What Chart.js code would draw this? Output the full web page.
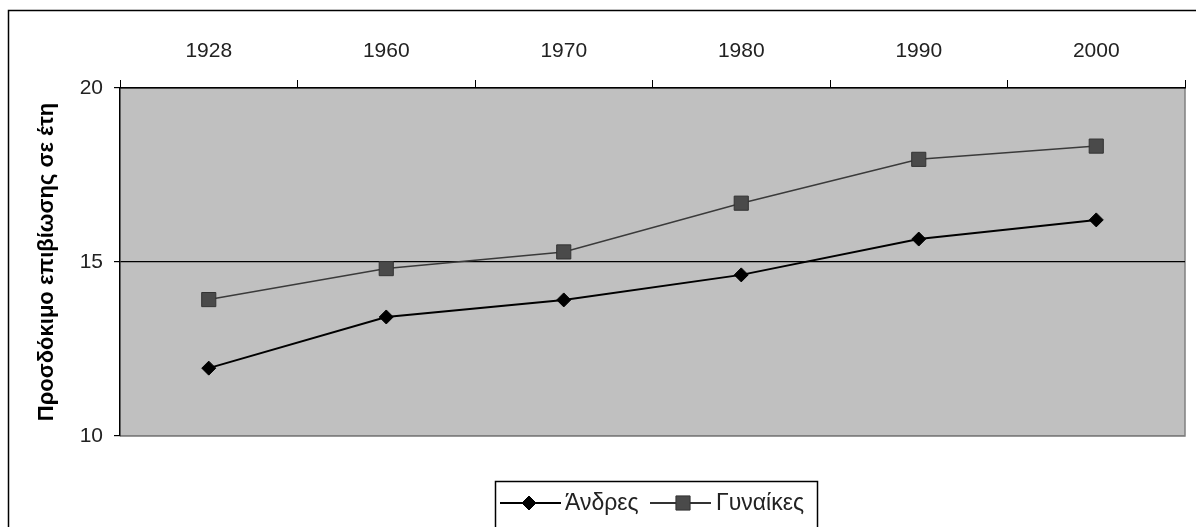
<!DOCTYPE html>
<html>
<head>
<meta charset="utf-8">
<script src="https://cdn.jsdelivr.net/npm/chart.js@4.4.1/dist/chart.umd.min.js"></script>
<style>
  html, body { margin: 0; padding: 0; background: #ffffff; }
  #wrap { width: 1196px; height: 527px; position: relative; }
</style>
</head>
<body>
<div id="wrap"><canvas id="c" width="1196" height="527"></canvas></div>
<script>
const categories = ['1928', '1960', '1970', '1980', '1990', '2000'];
const menValues = [11.95, 13.42, 13.91, 14.63, 15.66, 16.21];
const womenValues = [13.92, 14.81, 15.29, 16.69, 17.95, 18.33];
const yTicks = [10, 15, 20];
const seriesNames = ['Άνδρες', 'Γυναίκες'];
const yTitle = 'Προσδόκιμο επιβίωσης σε έτη';

const FONT = '"Liberation Sans", Arial, "DejaVu Sans", sans-serif';

const framePlugin = {
  id: 'frame',
  beforeDraw(chart) {
    const {ctx, chartArea: a} = chart;
    ctx.save();
    ctx.fillStyle = '#ffffff';
    ctx.fillRect(0, 0, chart.width, chart.height);
    ctx.strokeStyle = '#000';
    ctx.lineWidth = 1.5;
    ctx.beginPath();
    ctx.moveTo(8.5, chart.height + 2);
    ctx.lineTo(8.5, 10.5);
    ctx.lineTo(chart.width + 2, 10.5);
    ctx.stroke();
    ctx.fillStyle = '#c0c0c0';
    ctx.fillRect(a.left, a.top, a.right - a.left, a.bottom - a.top);
    ctx.strokeStyle = '#808080';
    ctx.lineWidth = 1.5;
    ctx.beginPath();
    ctx.moveTo(a.right, a.top);
    ctx.lineTo(a.right, a.bottom);
    ctx.lineTo(a.left, a.bottom);
    ctx.stroke();
    ctx.restore();
  },
  afterDraw(chart) {
    const {ctx} = chart;
    const H = Chart.helpers;
    ctx.save();
    ctx.strokeStyle = '#000';
    ctx.lineWidth = 1.5;
    ctx.strokeRect(495.5, 481.5, 322, 60);
    const cy = 503;
    ctx.font = '23px ' + FONT;
    ctx.textBaseline = 'middle';
    ctx.textAlign = 'left';
    // men
    ctx.strokeStyle = '#000';
    ctx.lineWidth = 2;
    ctx.beginPath(); ctx.moveTo(500, cy); ctx.lineTo(561, cy); ctx.stroke();
    ctx.fillStyle = '#000';
    ctx.lineWidth = 1;
    H.drawPoint(ctx, {pointStyle: 'rectRot', radius: 7, rotation: 0, borderWidth: 1}, 529, cy);
    ctx.fillStyle = '#222';
    ctx.fillText(seriesNames[0], 565, cy + 1);
    // women
    ctx.strokeStyle = '#333';
    ctx.lineWidth = 2;
    ctx.beginPath(); ctx.moveTo(650, cy); ctx.lineTo(711, cy); ctx.stroke();
    ctx.fillStyle = '#4a4a4a';
    ctx.strokeStyle = '#333';
    ctx.lineWidth = 1;
    H.drawPoint(ctx, {pointStyle: 'rect', radius: 10, rotation: 0, borderWidth: 1}, 683, cy);
    ctx.fillStyle = '#222';
    ctx.fillText(seriesNames[1], 716, cy + 1);
    ctx.restore();
  }
};

new Chart(document.getElementById('c'), {
  type: 'line',
  data: {
    labels: categories,
    datasets: [
      {
        label: seriesNames[0],
        data: menValues,
        borderColor: '#000',
        borderWidth: 2,
        backgroundColor: '#000',
        pointStyle: 'rectRot',
        pointRadius: 7,
        pointBorderWidth: 1,
        pointBorderColor: '#000',
        pointBackgroundColor: '#000',
        tension: 0
      },
      {
        label: seriesNames[1],
        data: womenValues,
        borderColor: '#3a3a3a',
        borderWidth: 1.5,
        backgroundColor: '#4a4a4a',
        pointStyle: 'rect',
        pointRadius: 10,
        pointBorderWidth: 1,
        pointBorderColor: '#333',
        pointBackgroundColor: '#4a4a4a',
        tension: 0
      }
    ]
  },
  options: {
    responsive: false,
    animation: false,
    events: [],
    layout: { padding: { left: 0, top: 0, right: 10, bottom: 91 } },
    plugins: {
      legend: { display: false },
      tooltip: { enabled: false }
    },
    scales: {
      x: {
        position: 'top',
        offset: true,
        grid: {
          offset: true,
          drawOnChartArea: false,
          drawTicks: true,
          tickLength: 8,
          color: '#000',
          tickColor: '#000',
          tickWidth: 1
        },
        border: { display: true, color: '#000', width: 1.5 },
        ticks: {
          color: '#222',
          font: { size: 21, family: FONT },
          padding: 16,
          maxRotation: 0
        },
        afterFit(scale) { scale.height = 88; }
      },
      y: {
        min: 10,
        max: 20,
        afterBuildTicks(scale) { scale.ticks = yTicks.map(v => ({value: v})); },
        grid: {
          drawOnChartArea: true,
          color: ctx => (ctx.tick && ctx.tick.value === 10) ? '#808080' : '#000',
          lineWidth: 1.2,
          tickLength: 6,
          tickColor: '#000'
        },
        border: { display: true, color: '#000', width: 1.5 },
        ticks: {
          color: '#222',
          font: { size: 21, family: FONT },
          padding: 11
        },
        title: {
          display: true,
          text: yTitle,
          color: '#000',
          font: { size: 22, weight: 'bold', family: FONT },
          padding: { top: 34, bottom: 0 }
        },
        afterFit(scale) { scale.width = 120; }
      }
    }
  },
  plugins: [framePlugin]
});
</script>
</body>
</html>
